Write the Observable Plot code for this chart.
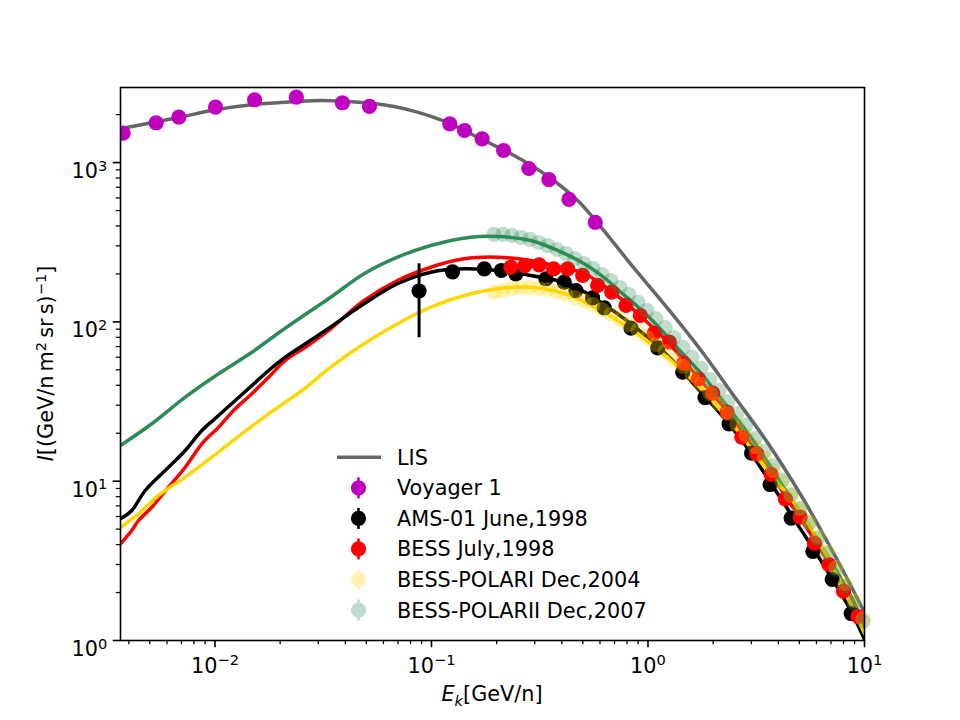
<!DOCTYPE html>
<html>
<head>
<meta charset="utf-8">
<script src="https://cdn.jsdelivr.net/npm/d3@7"></script>
<script src="https://cdn.jsdelivr.net/npm/@observablehq/plot@0.6"></script>
<style>
  body { margin: 0; background: #fff; }
  #chart svg { font-family: "DejaVu Sans", sans-serif; }
</style>
</head>
<body>
<div id="chart"></div>
<script>
// ---- Local interstellar spectrum (GeV/n, flux) ----
const lisE = [0.003661, 0.006694, 0.01006, 0.01513, 0.02402, 0.03077, 0.03944, 0.0524, 0.06716, 0.08615, 0.1144, 0.1415, 0.1751, 0.2326, 0.3305, 0.4732, 0.6064, 0.8643, 1.233, 1.758, 2.506, 3.576, 5.098, 6.533, 8.084, 10];
const lisF = [1630, 1911, 2145, 2316, 2419, 2454, 2429, 2360, 2250, 2072, 1819, 1590, 1376, 1136, 854, 578, 393, 216.4, 121.4, 66.14, 34.01, 17.37, 8.134, 4.497, 2.634, 1.499];

// ---- Voyager 1 ----
const voyagerE = [0.003767, 0.00535, 0.00681, 0.01006, 0.01524, 0.02376, 0.03877, 0.05168, 0.1215, 0.1421, 0.1713, 0.2152, 0.2817, 0.3485, 0.4313, 0.5706];
const voyagerF = [1530, 1778, 1928, 2228, 2479, 2573, 2374, 2250, 1752, 1590, 1410, 1191, 918, 783, 587, 422];

// ---- AMS-01 June 1998 ----
const amsE = [0.08763, 0.1251, 0.1754, 0.2102, 0.2453, 0.3376, 0.4102, 0.4647, 0.5549, 0.6281, 0.8343, 1.109, 1.447, 1.834, 2.368, 3.009, 3.664, 4.583, 5.774, 7.090, 8.683];
const amsF = [156.3, 206.3, 215.4, 210.2, 200.4, 186.5, 177.5, 157.4, 141.3, 122.3, 91.5, 68.6, 48.3, 33.5, 22.9, 15.0, 9.53, 5.87, 3.62, 2.415, 1.477];
const amsErrE = [0.08763];
const amsErrLow = [79.5];
const amsErrHigh = [231.6];

// ---- BESS July 1998 ----
const bessE = [0.2326, 0.2700, 0.3144, 0.3664, 0.4253, 0.4990, 0.5855, 0.6795, 0.7912, 0.9213, 1.069, 1.254, 1.462, 1.708, 1.991, 2.318, 2.712, 3.181, 3.704, 4.313, 5.044, 5.873, 6.845, 7.997, 9.322];
const bessF = [220.4, 225.9, 228.2, 215.4, 215.4, 195.6, 169.3, 153.6, 126.8, 109.7, 84.95, 74.6, 55.05, 43.95, 35.68, 27.11, 18.89, 14.86, 11.02, 7.752, 5.943, 4.081, 3.000, 2.039, 1.415];

// ---- BESS-Polar I (Dec 2004) and BESS-Polar II (Dec 2007) ----
const polarE = [0.194, 0.2136, 0.235, 0.2587, 0.2847, 0.3133, 0.3448, 0.3795, 0.4176, 0.4596, 0.5058, 0.5566, 0.6126, 0.6742, 0.742, 0.8166, 0.8987, 0.989, 1.088, 1.198, 1.318, 1.451, 1.597, 1.757, 1.934, 2.128, 2.342, 2.577, 2.837, 3.122, 3.436, 3.782, 4.162, 4.58, 5.041, 5.546, 6.104, 6.718, 7.393, 8.136, 8.954, 9.854];
const polar1F = [152.9, 157.4, 162.0, 164.4, 164.4, 162.0, 159.7, 155.2, 148.6, 142.3, 136.2, 128.6, 119.6, 111.3, 103.5, 96.3, 88.3, 79.8, 72.1, 65.2, 58.1, 52.5, 46.1, 40.5, 35.5, 30.7, 26.6, 22.7, 19.4, 16.5, 13.9, 11.67, 9.81, 8.13, 6.74, 5.51, 4.50, 3.62, 2.87, 2.28, 1.78, 1.37];
const polar2F = [353.8, 353.8, 348.7, 338.7, 329.1, 315.1, 301.6, 284.8, 268.8, 250.0, 232.6, 216.4, 198.4, 181.9, 164.4, 148.6, 132.4, 117.9, 105.0, 92.2, 79.8, 69.1, 59.8, 51.0, 43.5, 37.1, 31.6, 26.6, 22.4, 18.5, 15.4, 12.5, 10.2, 8.25, 6.74, 5.43, 4.37, 3.52, 2.79, 2.18, 1.71, 1.32];

// ---- Modulated model spectra ----
const modelPolar2E = [0.00366, 0.005109, 0.007289, 0.01039, 0.01481, 0.02039, 0.03423, 0.04881, 0.06963, 0.09927, 0.1519, 0.2019, 0.2877, 0.3823, 0.5076, 0.6513, 0.7502, 0.8643, 1.069, 1.472, 1.758, 2.100, 2.506, 2.994, 3.576, 4.267, 5.098, 6.090, 7.265, 8.683, 10];
const modelPolar2F = [16.75, 22.93, 33.68, 47.23, 64.53, 88.3, 142.9, 200.4, 254.8, 301.6, 340.1, 343.6, 324.3, 280.7, 231.6, 181.9, 152.9, 130.5, 99.1, 61.5, 47.44, 35.02, 25.85, 18.81, 13.11, 9.000, 6.269, 4.245, 2.872, 1.889, 1.242];

const modelAmsE = [0.00366, 0.004127, 0.004762, 0.006103, 0.007289, 0.0087, 0.01039, 0.01241, 0.01481, 0.01769, 0.02113, 0.02616, 0.03236, 0.04881, 0.06963, 0.09927, 0.1415, 0.2019, 0.2877, 0.4253, 0.6064, 0.8643, 1.233, 1.758, 2.253, 2.890, 3.576, 4.583, 5.873, 7.265, 8.683, 10];
const modelAmsF = [5.807, 6.548, 8.741, 12.24, 15.58, 20.81, 25.85, 32.11, 39.88, 49.54, 60.03, 72.88, 88.3, 129.9, 173.5, 205.1, 215.4, 210.2, 195.6, 174.2, 132.4, 93.56, 61.5, 36.05, 24.75, 16.04, 10.40, 6.180, 3.673, 2.312, 1.521, 1.015];

const modelBessE = [0.00366, 0.004127, 0.004434, 0.005109, 0.006103, 0.007289, 0.0087, 0.01039, 0.01241, 0.01481, 0.01769, 0.02113, 0.02616, 0.03351, 0.04881, 0.06963, 0.09927, 0.1415, 0.2019, 0.2877, 0.3676, 0.5060, 0.6817, 0.9282, 1.251, 1.703, 2.318, 3.158, 4.298, 5.855, 7.971, 10];
const modelBessF = [4.046, 4.903, 5.666, 6.867, 9.169, 12.24, 17.17, 21.83, 28.48, 35.38, 44.97, 57.25, 69.36, 88.3, 136.2, 181.9, 220.4, 248.9, 254.8, 242.9, 225.9, 201.3, 155.2, 108.1, 73.18, 44.77, 27.39, 15.36, 8.134, 4.306, 2.183, 1.155];

const modelPolar1E = [0.00366, 0.004434, 0.005487, 0.007289, 0.009676, 0.01241, 0.01769, 0.02522, 0.03423, 0.04881, 0.06963, 0.09927, 0.1415, 0.2019, 0.2877, 0.4253, 0.6064, 0.8643, 1.233, 1.758, 2.506, 3.576, 5.098, 7.265, 10];
const modelPolar1F = [5.143, 6.243, 8.134, 10.60, 14.15, 18.46, 26.49, 37.10, 51.95, 72.88, 97.3, 123.7, 146.5, 161.4, 165.1, 148.6, 117.9, 87.0, 59.77, 38.19, 22.05, 11.67, 6.360, 2.751, 1.106];

// ---- Axes ----
const xMajor = [0.01, 0.1, 1, 10];
const yMajor = [1, 10, 100, 1000];
const legendLabels = ["LIS", "Voyager 1", "AMS-01 June,1998", "BESS July,1998", "BESS-POLARI Dec,2004", "BESS-POLARII Dec,2007"];

// colours
const cLIS = "#666666", cVoy = "#bf00bf", cAms = "#000000", cBess = "#ff0000", cP1 = "#ffd700", cP2 = "#2e8b57";

const pts = (E, F) => E.map((e, i) => ({e, f: F[i]}));

function minorTicks(lo, hi) {
  const out = [];
  for (let p = Math.floor(Math.log10(lo)); p < Math.ceil(Math.log10(hi)); p++) {
    for (let m = 2; m <= 9; m++) {
      const v = m * Math.pow(10, p);
      if (v >= lo && v <= hi) out.push(v);
    }
  }
  return out;
}
const xDomain = [0.003661, 10];
const yDomain = [1, 2960];
const xMinor = minorTicks(xDomain[0], xDomain[1]);
const yMinor = minorTicks(yDomain[0], yDomain[1]);
const expFmt = d => "10^" + Math.round(Math.log10(d));

const lw = 3.5, R = 7.6;

const plot = Plot.plot({
  width: 960,
  height: 720,
  marginLeft: 120,
  marginRight: 96,
  marginTop: 87,
  marginBottom: 80,
  style: {fontFamily: "DejaVu Sans", fontSize: "20.8px", background: "#fff", color: "#000"},
  x: {type: "log", domain: xDomain},
  y: {type: "log", domain: yDomain},
  marks: [
    Plot.line(pts(lisE, lisF), {x: "e", y: "f", stroke: cLIS, strokeWidth: lw, curve: "catmull-rom", clip: true}),
    Plot.line(pts(modelPolar2E, modelPolar2F), {x: "e", y: "f", stroke: cP2, strokeWidth: lw, curve: "catmull-rom", clip: true}),
    Plot.line(pts(modelBessE, modelBessF), {x: "e", y: "f", stroke: cBess, strokeWidth: lw, curve: "catmull-rom", clip: true}),
    Plot.line(pts(modelAmsE, modelAmsF), {x: "e", y: "f", stroke: cAms, strokeWidth: lw, curve: "catmull-rom", clip: true}),
    Plot.line(pts(modelPolar1E, modelPolar1F), {x: "e", y: "f", stroke: cP1, strokeWidth: lw, curve: "catmull-rom", clip: true}),

    Plot.dot(pts(voyagerE, voyagerF), {x: "e", y: "f", r: R, fill: cVoy, clip: true}),
    Plot.ruleX(amsErrE.map((e, i) => ({e, lo: amsErrLow[i], hi: amsErrHigh[i]})), {x: "e", y1: "lo", y2: "hi", stroke: cAms, strokeWidth: 3}),
    Plot.dot(pts(amsE, amsF), {x: "e", y: "f", r: R, fill: cAms}),
    Plot.dot(pts(bessE, bessF), {x: "e", y: "f", r: R, fill: cBess}),
    Plot.dot(pts(polarE, polar1F), {x: "e", y: "f", r: R, fill: cP1, fillOpacity: 0.3}),
    Plot.dot(pts(polarE, polar2F), {x: "e", y: "f", r: R, fill: cP2, fillOpacity: 0.3}),

    Plot.frame({stroke: "#000", strokeWidth: 1.6}),
    Plot.axisX(xMinor, {anchor: "bottom", tickSize: 4.2, strokeWidth: 1.25, tickFormat: () => "", label: null}),
    Plot.axisX(xMajor, {anchor: "bottom", tickSize: 7.3, strokeWidth: 1.6, tickPadding: 10, tickFormat: expFmt, label: null}),
    Plot.axisY(yMinor, {anchor: "left", tickSize: 4.2, strokeWidth: 1.25, tickFormat: () => "", label: null}),
    Plot.axisY(yMajor, {anchor: "left", tickSize: 7.3, strokeWidth: 1.6, tickPadding: 6, tickFormat: expFmt, label: null})
  ]
});

const svg = d3.select(plot);
svg.style("overflow", "visible");

// Power-of-ten tick labels: "10" with a raised exponent
svg.selectAll("text").each(function () {
  const m = /^10\^(-?\d+)$/.exec(this.textContent);
  if (!m) return;
  const el = d3.select(this);
  const isY = el.attr("text-anchor") === "end" || d3.select(this.parentNode).attr("text-anchor") === "end";
  el.text(null);
  if (isY) el.attr("dy", "0.42em");
  el.append("tspan").text("10");
  el.append("tspan").attr("dy", "-7.3").attr("font-size", "14.6px").text(m[1].replace("-", "\u2212"));
});

const font = "DejaVu Sans, sans-serif";

// x-axis title: E_k[GeV/n]
const xt = svg.append("text")
  .attr("x", 492).attr("y", 701)
  .attr("text-anchor", "middle")
  .attr("font-family", font).attr("font-size", 20.8).attr("fill", "#000");
xt.append("tspan").attr("font-style", "italic").text("E");
xt.append("tspan").attr("font-style", "italic").attr("font-size", "14.6px").attr("dy", "4.5").text("k");
xt.append("tspan").attr("dy", "-4.5").text("[GeV/n]");

// y-axis title: I[(GeV/n m^2 sr s)^-1]
const yt = svg.append("text")
  .attr("transform", "translate(53,363.5) rotate(-90)")
  .attr("text-anchor", "middle")
  .attr("font-family", font).attr("font-size", 20.8).attr("fill", "#000");
yt.append("tspan").attr("font-style", "italic").text("I");
yt.append("tspan").text("[(GeV/n\u2009m");
yt.append("tspan").attr("font-size", "14.6px").attr("dy", "-7.3").text("2");
yt.append("tspan").attr("dy", "7.3").text("\u2009sr\u2009s)");
yt.append("tspan").attr("font-size", "14.6px").attr("dy", "-7.3").text("\u22121");
yt.append("tspan").attr("dy", "7.3").text("]");

// Legend
const legendColors = [cLIS, cVoy, cAms, cBess, cP1, cP2];
const legendAlpha = [1, 1, 1, 1, 0.3, 0.3];
const lg = svg.append("g").attr("font-family", font).attr("font-size", 20.8).attr("text-anchor", "start");
legendLabels.forEach((label, i) => {
  const y = 457.3 + i * 30.55;
  if (i === 0) {
    lg.append("line").attr("x1", 337).attr("x2", 381).attr("y1", y).attr("y2", y)
      .attr("stroke", legendColors[i]).attr("stroke-width", lw);
  } else {
    const g = lg.append("g").attr("opacity", legendAlpha[i]);
    g.append("line").attr("x1", 358.5).attr("x2", 358.5).attr("y1", y - 10.5).attr("y2", y + 10.5)
      .attr("stroke", legendColors[i]).attr("stroke-width", 2.6);
    g.append("circle").attr("cx", 358.5).attr("cy", y).attr("r", R).attr("fill", legendColors[i]);
  }
  lg.append("text").attr("x", 397).attr("y", y).attr("dy", "0.36em")
    .attr("text-anchor", "start").attr("fill", "#000").text(label);
});

document.getElementById("chart").appendChild(plot);
</script>
</body>
</html>
